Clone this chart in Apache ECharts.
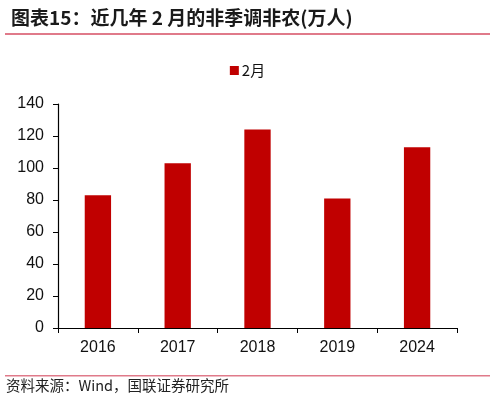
<!DOCTYPE html>
<html>
<head>
<meta charset="utf-8">
<script src="https://cdn.jsdelivr.net/npm/echarts@6/dist/echarts.min.js"></script>
<style>
  html, body { margin: 0; padding: 0; background: #fff; }
  #chart { width: 495px; height: 399px; }
</style>
</head>
<body>
<div id="chart"></div>
<script>
// data
var years = ['2016', '2017', '2018', '2019', '2024'];
var febNonfarm = [83, 103, 124, 81, 113];
var yTicks = { min: 0, max: 140, interval: 20 };

var cjk = '"Noto Sans CJK SC", sans-serif';
var latin = 'Arial, "Liberation Sans", sans-serif';

var myChart = echarts.init(document.getElementById('chart'));
var option = {
    backgroundColor: '#fff',
    animation: false,
    title: {
        text: '图表15：近几年 2 月的非季调非农(万人)',
        left: 6,
        top: 3,
        textStyle: { fontFamily: cjk, fontSize: 19, fontWeight: 'bold', color: '#1a1a1a' }
    },
    graphic: [
        { type: 'rect', shape: { x: 5, y: 33, width: 485, height: 2 }, style: { fill: '#e07a8a' } },
        { type: 'rect', shape: { x: 5, y: 375, width: 485, height: 1.5 }, style: { fill: '#e07a8a' } },
        {
            type: 'text', left: 6, top: 378,
            style: { text: '资料来源：Wind，国联证券研究所', font: '14.5px ' + cjk, fill: '#222' }
        }
    ],
    legend: {
        top: 58,
        left: 'center',
        icon: 'rect',
        itemWidth: 9,
        itemHeight: 9,
        itemGap: 4,
        textStyle: { fontFamily: cjk, fontSize: 15, color: '#111', padding: [0, 0, 0, -2] },
        data: ['2月']
    },
    grid: { left: 58, right: 38, top: 104, bottom: 71, containLabel: false },
    xAxis: {
        type: 'category',
        data: years,
        axisLine: { lineStyle: { color: '#000', width: 1.2 } },
        axisTick: { show: true, length: 5, lineStyle: { color: '#000' } },
        axisLabel: { fontFamily: latin, fontSize: 16, color: '#111', margin: 12 }
    },
    yAxis: {
        type: 'value',
        min: yTicks.min,
        max: yTicks.max,
        interval: yTicks.interval,
        splitLine: { show: false },
        axisLine: { show: true, lineStyle: { color: '#000', width: 1.2 } },
        axisTick: { show: true, length: 5, lineStyle: { color: '#000' } },
        axisLabel: { fontFamily: latin, fontSize: 16, color: '#111', margin: 14 }
    },
    series: [{
        name: '2月',
        type: 'bar',
        data: febNonfarm,
        barWidth: '33%',
        itemStyle: { color: '#c00000' }
    }]
};
myChart.setOption(option);
</script>
</body>
</html>
